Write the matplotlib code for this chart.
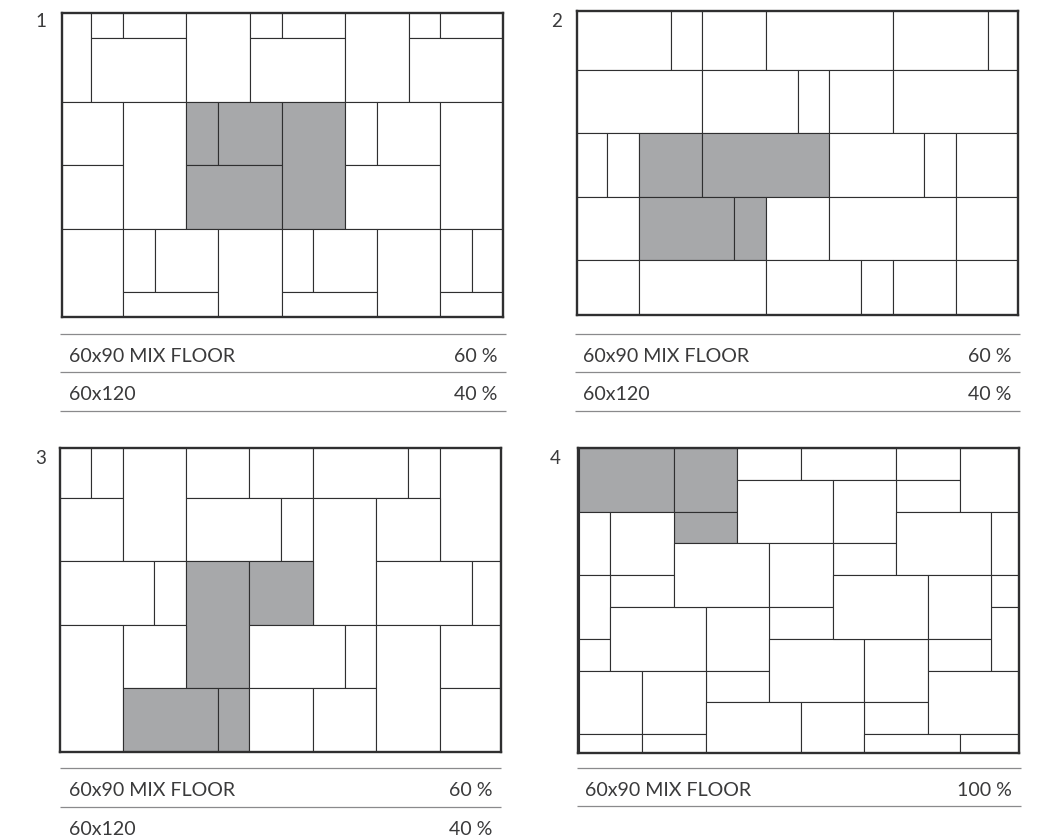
import matplotlib
matplotlib.use("Agg")
import matplotlib.pyplot as plt
from matplotlib.patches import Rectangle

W, H = 1043, 840
INK = "#2f2f30"
SHADE = "#a7a8aa"
TEXT = "#3a3a3b"
RULE = "#8a8a8c"

# tiles: (x0, x1, y0, y1, shaded) in grid modules, y downward
tiles_1 = [
    (0,1,0,3,0),(1,2,0,1,0),(2,4,0,1,0),(1,4,1,3,0),(4,6,0,3,0),(6,7,0,1,0),(7,9,0,1,0),
    (6,9,1,3,0),(9,11,0,3,0),(11,12,0,1,0),(12,14,0,1,0),(11,14,1,3,0),
    (0,2,3,5,0),(0,2,5,7,0),(2,4,3,7,0),(4,5,3,5,1),(5,7,3,5,1),(4,7,5,7,1),(7,9,3,7,1),
    (9,10,3,5,0),(10,12,3,5,0),(9,12,5,7,0),(12,14,3,7,0),
    (0,2,7,10,0),(2,3,7,9,0),(3,5,7,9,0),(2,5,9,10,0),(5,7,7,10,0),(7,8,7,9,0),(8,10,7,9,0),
    (7,10,9,10,0),(10,12,7,10,0),(12,13,7,9,0),(13,14,7,9,0),(12,14,9,10,0),
]
tiles_2 = [
    (0,3,0,2,0),(3,4,0,2,0),(4,6,0,2,0),(6,10,0,2,0),(10,13,0,2,0),(13,14,0,2,0),
    (0,4,2,4,0),(4,7,2,4,0),(7,8,2,4,0),(8,10,2,4,0),(10,14,2,4,0),
    (0,1,4,6,0),(1,2,4,6,0),(2,4,4,6,1),(4,8,4,6,1),(8,11,4,6,0),(11,12,4,6,0),(12,14,4,6,0),
    (0,2,6,8,0),(2,5,6,8,1),(5,6,6,8,1),(6,8,6,8,0),(8,12,6,8,0),(12,14,6,8,0),
    (0,2,8,10,0),(2,6,8,10,0),(6,9,8,10,0),(9,10,8,10,0),(10,12,8,10,0),(12,14,8,10,0),
]
tiles_3 = [
    (0,1,0,2,0),(1,2,0,2,0),(0,2,2,4,0),(2,4,0,4,0),(4,6,0,2,0),(6,8,0,2,0),(8,11,0,2,0),
    (11,12,0,2,0),(12,14,0,4,0),(4,7,2,4,0),(7,8,2,4,0),(8,10,2,6,0),(10,12,2,4,0),
    (0,3,4,6,0),(3,4,4,6,0),(4,6,4,8,1),(6,8,4,6,1),(10,13,4,6,0),(13,14,4,6,0),
    (0,2,6,10,0),(2,4,6,8,0),(2,5,8,10,1),(5,6,8,10,1),(6,9,6,8,0),(9,10,6,8,0),
    (6,8,8,10,0),(8,10,8,10,0),(10,12,6,10,0),(12,14,6,8,0),(12,14,8,10,0),
]
tiles_4 = [
    (0,3,0,2,1),(3,5,0,2,1),(3,5,2,3,1),(5,7,0,1,0),(7,10,0,1,0),(10,12,0,1,0),(10,12,1,2,0),
    (12,14,0,2,0),(5,8,1,3,0),(8,10,1,3,0),(8,10,3,4,0),(10,13,2,4,0),(13,14,2,4,0),
    (13,14,4,5,0),(13,14,5,7,0),(0,1,2,4,0),(1,3,2,4,0),(1,3,4,5,0),(0,1,4,6,0),(0,1,6,7,0),
    (1,4,5,7,0),(3,6,3,5,0),(6,8,3,5,0),(6,8,5,6,0),(4,6,5,7,0),(4,6,7,8,0),(6,9,6,8,0),
    (9,11,6,8,0),(9,11,8,9,0),(8,11,4,6,0),(11,13,4,6,0),(11,13,6,7,0),(11,14,7,9,0),
    (0,2,7,9,0),(2,4,7,9,0),(0,2,9,10,0),(2,4,9,10,0),(4,7,8,10,0),(7,9,8,10,0),
    (9,12,9,10,0),(12,14,9,10,0),
]

panel_labels = ["1", "2", "3", "4"]
row_names = [["60x90 MIX FLOOR", "60x120"], ["60x90 MIX FLOOR", "60x120"],
             ["60x90 MIX FLOOR", "60x120"], ["60x90 MIX FLOOR"]]
row_shares = [["60 %", "40 %"], ["60 %", "40 %"], ["60 %", "40 %"], ["100 %"]]
panel_tiles = [tiles_1, tiles_2, tiles_3, tiles_4]

# layout: pixel box, visible module window
boxes = [(61.7, 502.7, 12.7, 316.7), (577.3, 1017.7, 11, 315),
         (60, 500.7, 448.3, 752), (577.7, 1019, 448.3, 753.3)]
windows = [(0.07, 13.96, 0.19, 9.77), (0.06, 13.94, 0.14, 9.72),
           (0.03, 13.92, 0.45, 10.0), (-0.03, 13.87, 0.01, 9.6)]
label_pos = [(41, 21.5), (557, 21.5), (41, 458.5), (555, 458.5)]
rule_x = [(60, 506), (575, 1020), (60, 501), (577, 1021)]
rule_y = [(333.5, 372, 411), (333.5, 372, 411), (768, 807), (767.5, 806)]
text_x = [(69, 497.5), (583, 1011.5), (69, 492.5), (585, 1011.5)]
ROW_PITCH = 38.7

fig = plt.figure(figsize=(W / 100, H / 100), dpi=100, facecolor="white")
plt.rcParams["font.family"] = ["Lato", "DejaVu Sans"]

over = fig.add_axes([0, 0, 1, 1])
over.set_xlim(0, W)
over.set_ylim(H, 0)
over.axis("off")

for i, tiles in enumerate(panel_tiles):
    x0, x1, y0, y1 = boxes[i]
    ax = fig.add_axes([x0 / W, 1 - y1 / H, (x1 - x0) / W, (y1 - y0) / H])
    wx0, wx1, wy0, wy1 = windows[i]
    ax.set_xlim(wx0, wx1)
    ax.set_ylim(wy1, wy0)
    ax.set_xticks([])
    ax.set_yticks([])
    for s in ax.spines.values():
        s.set_linewidth(1.7)
        s.set_color(INK)
        s.set_zorder(5)
    for (a, b, c, d, shaded) in tiles:
        ax.add_patch(Rectangle((a, c), b - a, d - c,
                               facecolor=SHADE if shaded else "white",
                               edgecolor=INK, linewidth=0.8))
    lx, ly = label_pos[i]
    over.text(lx, ly, panel_labels[i], fontsize=13.5, color=TEXT, ha="center", va="center")
    rx0, rx1 = rule_x[i]
    for ry in rule_y[i]:
        over.plot([rx0, rx1], [ry, ry], color=RULE, lw=0.9, solid_capstyle="butt")
    for j, (name, share) in enumerate(zip(row_names[i], row_shares[i])):
        yc = rule_y[i][j] + ROW_PITCH / 2 + 3.2
        over.text(text_x[i][0], yc, name, fontsize=14.1, color=TEXT, ha="left", va="center")
        over.text(text_x[i][1], yc, share, fontsize=14.1, color=TEXT, ha="right", va="center")

fig.savefig("out.png", dpi=100, facecolor="white")
